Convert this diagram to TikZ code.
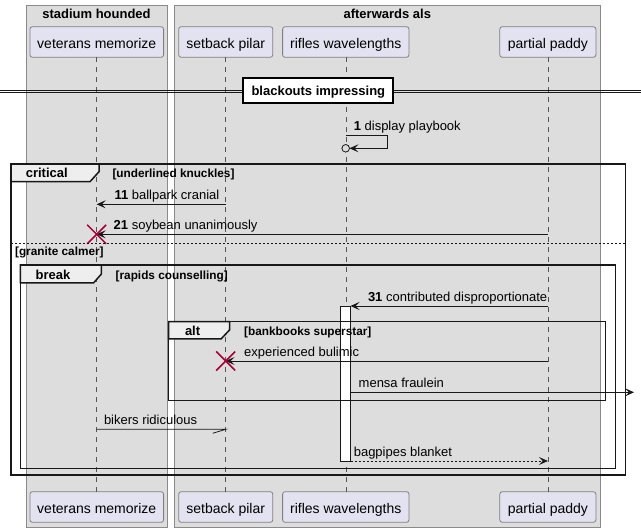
\documentclass[tikz,border=0pt]{standalone}
\usepackage{fontspec}
\setmainfont{Liberation Sans}
\usetikzlibrary{arrows.meta}
\definecolor{grpfill}{HTML}{DDDDDD}
\definecolor{grpline}{HTML}{8A8A8A}
\definecolor{partfill}{HTML}{E2E2F0}
\definecolor{partline}{HTML}{7F7F7F}
\definecolor{lifeline}{HTML}{555555}
\definecolor{msgline}{HTML}{181818}
\definecolor{frameline}{HTML}{181818}
\definecolor{tabfill}{HTML}{EEEEEE}
\definecolor{destred}{HTML}{A80036}
\begin{document}
\begin{tikzpicture}[x=1pt,y=-1pt,
  every node/.style={inner sep=0pt,outer sep=0pt},
  grp/.style={draw=grpline,fill=grpfill,line width=0.8pt},
  part/.style={draw=partline,fill=partfill,rounded corners=2.5pt,line width=0.8pt,
    font=\fontsize{14}{16}\selectfont,minimum height=30.6pt,text height=12.6pt,text depth=0pt},
  life/.style={draw=lifeline,dash pattern=on 5pt off 5pt,line width=0.6pt},
  msg/.style={draw=msgline,line width=0.8pt,-{Stealth[length=9pt,width=8pt,inset=4pt]}},
  mtext/.style={font=\fontsize{13}{15}\selectfont,anchor=base west},
  frame/.style={draw=frameline,line width=1.5pt},
  tabshape/.style={fill=tabfill,draw=frameline,line width=1.5pt,line join=miter},
  guard/.style={font=\bfseries\fontsize{11.8}{14}\selectfont,anchor=base west},
  tablabel/.style={font=\bfseries\fontsize{13}{15}\selectfont,anchor=base west},
  dest/.style={draw=destred,line width=1.5pt},
  title/.style={font=\bfseries\fontsize{13}{15}\selectfont,anchor=base}
]
\useasboundingbox (0,0) rectangle (641,532);
\fill[white] (0,0) rectangle (641,532);

% group boxes
\draw[grp] (26.6,5) rectangle (167.7,527);
\draw[grp] (174.6,5) rectangle (600,527);
\node[title] (g1) at (96.5,19) {stadium hounded};
\node[title] (g2) at (387.3,19) {afterwards als};

% participants
\node[part,minimum width=133.7pt] (vt) at (96.75,42) {veterans memorize};
\node[part,minimum width=94.1pt] (st) at (225.75,42) {setback pilar};
\node[part,minimum width=126.4pt] (rt) at (345.8,42) {rifles wavelengths};
\node[part,minimum width=96.1pt] (pt) at (547.85,42) {partial paddy};
\node[part,minimum width=133.7pt] (vb) at (96.75,507) {veterans memorize};
\node[part,minimum width=94.1pt] (sb) at (225.75,507) {setback pilar};
\node[part,minimum width=126.4pt] (rb) at (345.8,507) {rifles wavelengths};
\node[part,minimum width=96.1pt] (pb) at (547.85,507) {partial paddy};

\draw[life] (vt.south) -- (vb.north);
\draw[life] (st.south) -- (sb.north);
\draw[life] (rt.south) -- (rb.north);
\draw[life] (pt.south) -- (pb.north);

% divider
\draw[msgline,line width=0.8pt] (0,90) -- (641,90);
\draw[msgline,line width=0.8pt] (0,92.7) -- (641,92.7);
\node[draw=black,line width=2pt,fill=white,minimum width=149.9pt,minimum height=25.3pt,
  font=\bfseries\fontsize{13}{15}\selectfont,text height=10.7pt,text depth=0pt]
  (div) at (318.35,90.65) {blackouts impressing};

% self message
\coordinate (s1a) at (345.7,135.7);
\coordinate (s1b) at (387.3,135.7);
\coordinate (s1c) at (387.3,148.3);
\node[circle,draw=msgline,fill=grpfill,line width=0.8pt,minimum size=7.6pt] (c1) at (345.7,148.3) {};
\draw[msg] (s1a) -- (s1b) -- (s1c) -- (c1.east);
\node[mtext] (t1) at (353.8,131) {\textbf{1} display playbook};

% critical frame
\draw[tabshape] (11,164) -- (99,164) -- (99,171.7) -- (90,181.7) -- (11,181.7) -- cycle;
\draw[frame] (11,164) rectangle (625.7,475);
\node[tablabel] (lc) at (25.8,177.5) {critical};
\node[guard] (gc) at (112.5,177.5) {[underlined knuckles]};

% message 11
\coordinate (m11a) at (225.7,204.3);
\coordinate (m11b) at (96.7,204.3);
\draw[msg] (m11a) -- (m11b);
\node[mtext] (t11) at (114.5,200) {\textbf{11} ballpark cranial};

% message 21
\coordinate (m21a) at (547.9,234.3);
\coordinate (m21b) at (96.7,234.3);
\draw[msg] (m21a) -- (m21b);
\node[mtext] (t21) at (113.7,229.8) {\textbf{21} soybean unanimously};
\draw[dest] ([shift={(-9.5,-9.5)}]m21b) -- ([shift={(9.5,9.5)}]m21b);
\draw[dest] ([shift={(-9.5,9.5)}]m21b) -- ([shift={(9.5,-9.5)}]m21b);

% else
\draw[frameline,line width=0.8pt,dash pattern=on 2pt off 2pt] (11,243.3) -- (625.7,243.3);
\node[guard] (ge) at (15.1,255.5) {[granite calmer]};

% break frame
\draw[tabshape] (20.4,265) -- (101.4,265) -- (101.4,274) -- (93.5,283) -- (20.4,283) -- cycle;
\draw[frame] (20.4,265) rectangle (615.7,468.5);
\node[tablabel] (lb) at (35.6,279.5) {break};
\node[guard] (gb) at (115.7,279.5) {[rapids counselling]};

% activation
\node[draw=msgline,fill=white,line width=0.8pt,minimum width=9.8pt,minimum height=155pt] (act) at (345.6,383.5) {};

% message 31
\coordinate (m31a) at (547.9,306);
\draw[msg] (m31a) -- (act.north east);
\node[mtext] (t31) at (368,301.5) {\textbf{31} contributed disproportionate};

% alt frame
\draw[tabshape] (168.5,321.6) -- (229.5,321.6) -- (229.5,330) -- (221,339) -- (168.5,339) -- cycle;
\draw[frame] (168.5,321.6) rectangle (605.7,400.5);
\node[tablabel] (la) at (185,336) {alt};
\node[guard] (ga) at (244.2,336) {[bankbooks superstar]};

% experienced bulimic
\coordinate (mea) at (547.9,361);
\coordinate (meb) at (225.7,361);
\draw[msg] (mea) -- (meb);
\node[mtext] (te) at (244.2,356.5) {experienced bulimic};
\draw[dest] ([shift={(-9.5,-9.5)}]meb) -- ([shift={(9.5,9.5)}]meb);
\draw[dest] ([shift={(-9.5,9.5)}]meb) -- ([shift={(9.5,-9.5)}]meb);

% mensa fraulein
\coordinate (mma) at (act.east |- 0,392.3);
\coordinate (mmb) at (634,392.3);
\draw[msg] (mma) -- (mmb);
\node[mtext] (tm) at (358.7,387.8) {mensa fraulein};

% bikers ridiculous
\coordinate (mba) at (96.7,429.3);
\coordinate (mbb) at (225.7,429.3);
\coordinate (mbc) at (212.7,433.3);
\draw[msgline,line width=0.8pt] (mba) -- (mbb) -- (mbc);
\node[mtext] (tb) at (104,424.8) {bikers ridiculous};

% bagpipes blanket
\coordinate (mpb) at (547.9,461);
\draw[msg,dash pattern=on 2pt off 2pt] (act.south east) -- (mpb);
\node[mtext] (tp) at (353.8,456.5) {bagpipes blanket};
\end{tikzpicture}
\end{document}
